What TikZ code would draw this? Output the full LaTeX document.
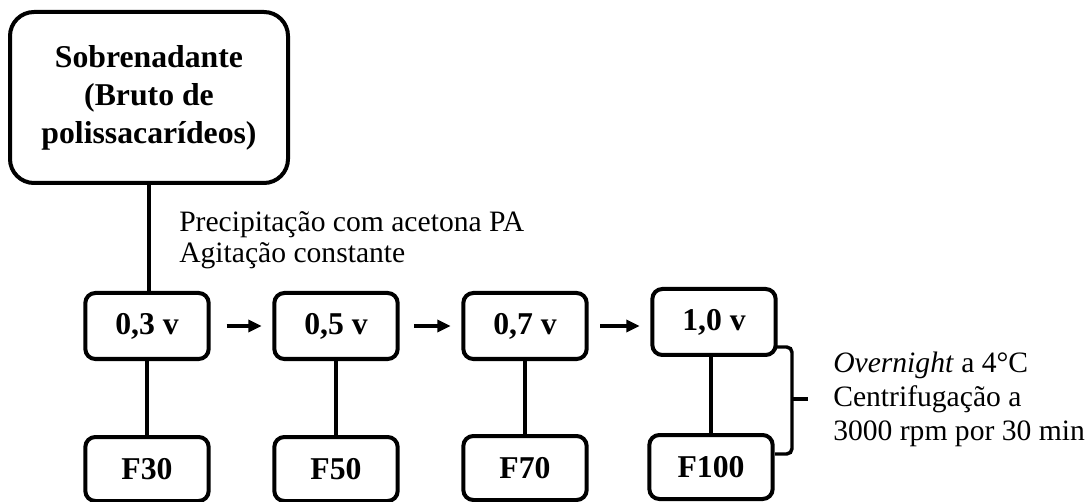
\documentclass[tikz,border=0pt]{standalone}
\usepackage{fontspec}
\setmainfont{Liberation Serif}
\usetikzlibrary{arrows.meta}

\begin{document}
\begin{tikzpicture}[x=0.75pt, y=-0.75pt,
  box/.style={draw, line width=3pt, rounded corners=7.5pt, inner sep=0pt,
    align=center, font=\fontsize{23.8}{28.5}\selectfont\bfseries},
  stagebox/.style={box, minimum width=92.5pt, minimum height=49.5pt},
  fracbox/.style={box, minimum width=92.5pt, minimum height=48pt},
  link/.style={line width=2.6pt},
  flow/.style={line width=2.6pt, -{Triangle[length=10pt, width=9pt]}},
  note/.style={inner sep=0pt, anchor=base west, align=left}]
  \useasboundingbox (0,0) rectangle (1089,502);

  % crude extract
  \node[box, rounded corners=18pt, minimum width=208.5pt, minimum height=128.25pt]
    (crude) at (149,97.5) {Sobrenadante\\(Bruto de\\polissacarídeos)};

  % acetone volumes
  \node[stagebox] (v03) at (147,326) {0,3 v};
  \node[stagebox] (v05) at (336,326) {0,5 v};
  \node[stagebox] (v07) at (525,326) {0,7 v};
  \node[stagebox] (v10) at (714,322) {1,0 v};

  % fractions
  \node[fracbox] (f30)  at (147,469) {F30};
  \node[fracbox] (f50)  at (336,469) {F50};
  \node[fracbox] (f70)  at (525,468) {F70};
  \node[fracbox] (f100) at (711,467) {F100};

  % links
  \draw[link] (crude.south) -- (crude.south |- v03.north);
  \draw[link] (v03.south) -- (f30.north);
  \draw[link] (v05.south) -- (f50.north);
  \draw[link] (v07.south) -- (f70.north);
  \draw[link] (v10.south -| f100.north) -- (f100.north);

  % volume steps
  \draw[flow] ([xshift=12pt]v03.east) -- ([xshift=-8pt]v03.east -| v05.west);
  \draw[flow] ([xshift=11pt]v05.east) -- ([xshift=-8pt]v05.east -| v07.west);
  \draw[flow] ([xshift=8.5pt]v07.east) -- ([xshift=-8pt]v07.east -| v10.west);

  % brace grouping the last step
  \coordinate (btop) at (792,347);
  \coordinate (bbot) at (792,454);
  \coordinate (btip) at (808,399);
  \draw[link, rounded corners=4pt] (775,347) -- (btop) -- (btop |- btip) -- (bbot) -- (775,454);
  \draw[link] (btop |- btip) -- (btip);

  % conditions (anchored on the baseline of the last line)
  \node[note, font=\fontsize{22.2}{23.5}\selectfont] (prec) at (179,263)
    {Precipitação com acetona PA\\Agitação constante};
  \node[note, font=\fontsize{22.2}{25.2}\selectfont] (cond) at (833,440)
    {\textit{Overnight} a 4°C\\Centrifugação a\\3000 rpm por 30 min};
\end{tikzpicture}
\end{document}
